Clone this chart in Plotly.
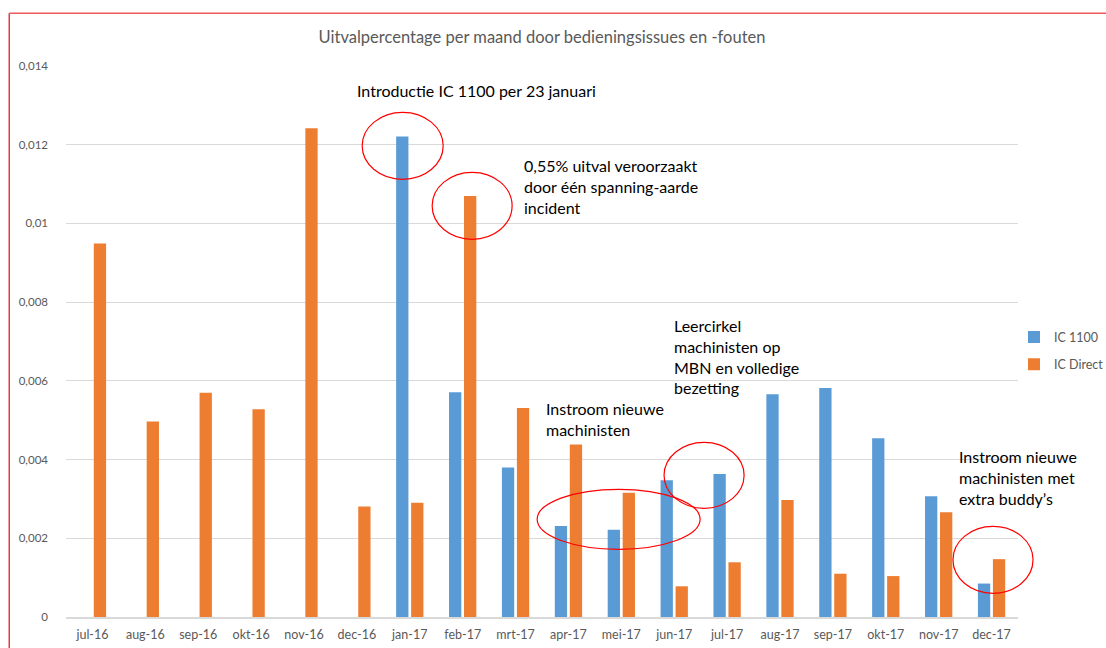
import plotly.graph_objects as go

months = ["jul-16", "aug-16", "sep-16", "okt-16", "nov-16", "dec-16",
          "jan-17", "feb-17", "mrt-17", "apr-17", "mei-17", "jun-17",
          "jul-17", "aug-17", "sep-17", "okt-17", "nov-17", "dec-17"]

ic1100 = [None, None, None, None, None, None,
          0.01221, 0.00571, 0.0038, 0.00231, 0.00222, 0.003475,
          0.003636, 0.00566, 0.00582, 0.00454, 0.00307, 0.00085]

icdirect = [0.00949, 0.00497, 0.0057, 0.00528, 0.01242, 0.00281,
            0.0029, 0.0107, 0.00531, 0.00438, 0.00316, 0.00078,
            0.00139, 0.00297, 0.0011, 0.00104, 0.00266, 0.00147]

ytick_vals = [0, 0.002, 0.004, 0.006, 0.008, 0.01, 0.012, 0.014]
ytick_text = ["0", "0,002", "0,004", "0,006", "0,008", "0,01", "0,012", "0,014"]

title_text = "Uitvalpercentage per maand door bedieningsissues en -fouten"

notes = [
    "Introductie IC 1100 per 23 januari",
    "0,55% uitval veroorzaakt<br>door één spanning-aarde<br>incident",
    "Instroom nieuwe<br>machinisten",
    "Leercirkel<br>machinisten op<br>MBN en volledige<br>bezetting",
    "Instroom nieuwe<br>machinisten met<br>extra buddy’s",
]

FONT = "Lato"
BLUE = "#5B9BD5"
ORANGE = "#ED7D31"
GRID = "#D9D9D9"
TXT = "#595959"

fig = go.Figure()
fig.add_trace(go.Bar(x=months, y=ic1100, name="IC 1100", legendgroup="a",
                     marker=dict(color=BLUE, line=dict(width=0))))
fig.add_trace(go.Bar(x=months, y=icdirect, name="IC Direct", legendgroup="b",
                     marker=dict(color=ORANGE, line=dict(width=0))))

# annotation text positions (paper coords)
note_pos = [(0.3038, 0.9758), (0.4791, 0.8401), (0.5022, 0.3991),
            (0.6366, 0.5497), (0.9359, 0.3130)]
annotations = []
for txt, (ax, ay) in zip(notes, note_pos):
    annotations.append(dict(text=txt, x=ax, y=ay, xref="paper", yref="paper",
                            xanchor="left", yanchor="top", align="left",
                            showarrow=False,
                            font=dict(family=FONT, size=16, color="#000000")))

# red ellipses (paper coords)
ellipses = [(0.3111, 0.7944, 0.3962, 0.916),
            (0.3846, 0.6855, 0.4686, 0.8071),
            (0.4949, 0.1229, 0.6661, 0.2318),
            (0.6282, 0.1973, 0.7123, 0.3171),
            (0.9317, 0.043, 1.0158, 0.1646)]
shapes = []
for x0, y0, x1, y1 in ellipses:
    shapes.append(dict(type="circle", xref="paper", yref="paper",
                       x0=x0, y0=y0, x1=x1, y1=y1,
                       line=dict(color="#FF0000", width=1.2)))

# red outer frame (left and top edges)
left_px, top_px = 9, 13
pl, pw, pt, ph = 65.75, 952.25, 65.7, 551
fx0 = (left_px - pl) / pw
fy1 = (pt + ph - top_px) / ph
shapes.append(dict(type="line", xref="paper", yref="paper",
                   x0=fx0, x1=fx0, y0=-0.2, y1=fy1,
                   line=dict(color="#E8383D", width=1.5)))
shapes.append(dict(type="line", xref="paper", yref="paper",
                   x0=fx0, x1=1.2, y0=fy1, y1=fy1,
                   line=dict(color="#EE5A5F", width=1.5)))

fig.update_layout(
    width=1106, height=648,
    margin=dict(l=66, r=88, t=66, b=31, autoexpand=False),
    paper_bgcolor="white", plot_bgcolor="white",
    barmode="group", bargap=0.433, bargroupgap=0.18,
    title=dict(text=title_text, x=0.5, xref="paper", xanchor="center",
               y=1 - 37 / 648, yanchor="middle",
               font=dict(family=FONT, size=16.5, color=TXT)),
    font=dict(family=FONT, size=12, color=TXT),
    xaxis=dict(type="category", showgrid=False, showline=True,
               linecolor=GRID, linewidth=1.5, ticks="",
               ticklabelstandoff=5,
               tickfont=dict(family=FONT, size=12.5, color=TXT)),
    yaxis=dict(range=[0, 0.014], tickvals=ytick_vals, ticktext=ytick_text,
               showgrid=True, gridcolor=GRID, gridwidth=1.2,
               zeroline=False, showline=False, ticks="",
               ticklabelstandoff=17,
               tickfont=dict(family=FONT, size=11.5, color=TXT)),
    legend=dict(x=0.9958, y=0.483, xanchor="left", yanchor="middle",
                font=dict(family=FONT, size=12.5, color=TXT),
                itemwidth=30, tracegroupgap=8,
                bgcolor="rgba(0,0,0,0)"),
    annotations=annotations,
    shapes=shapes,
)

fig.write_html("out.html",
               config={"displayModeBar": False},
               post_script="document.body.style.margin='0px';document.body.style.overflow='hidden';")
